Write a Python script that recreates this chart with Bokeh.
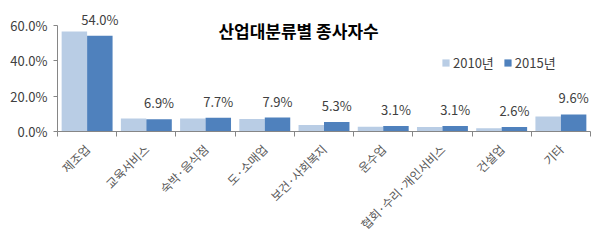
import numpy as np
from bokeh.plotting import figure
from bokeh.models import (ColumnDataSource, Range1d, FixedTicker, PrintfTickFormatter,
                          Legend, LegendItem, Label)
from bokeh.embed import file_html
from bokeh.resources import INLINE
from bokeh.core.properties import value

categories = ["제조업", "교육서비스", "숙박·음식점", "도·소매업", "보건·사회복지",
              "운수업", "협회·수리·개인서비스", "건설업", "기타"]
v2010 = [56.5, 7.4, 7.3, 7.0, 3.6, 2.7, 2.6, 1.9, 8.5]
v2015 = [54.0, 6.9, 7.7, 7.9, 5.3, 3.1, 3.1, 2.6, 9.6]
series_names = ["2010년", "2015년"]
y_ticks = [0, 20, 40, 60]
title_text = "산업대분류별 종사자수"

C2010 = "#B9CDE5"
C2015 = "#4F81BD"
FONT = "Noto Sans CJK KR"
n = len(categories)
centers = np.arange(n) + 0.5
bw = 0.43

p = figure(width=600, height=241, output_backend="svg", toolbar_location=None,
           x_range=Range1d(0, n), y_range=Range1d(0, 68.3),
           min_border_left=57, min_border_right=10, min_border_top=10,
           min_border_bottom=108)
p.outline_line_color = None
p.grid.visible = False
p.background_fill_color = "white"
p.border_fill_color = "white"

src = ColumnDataSource(dict(
    x1=centers - bw / 2, x2=centers + bw / 2, v1=v2010, v2=v2015,
    lab=[f"{v:.1f}%" for v in v2015]))

r1 = p.vbar(x="x1", top="v1", width=bw, source=src, fill_color=C2010, line_color=None)
r2 = p.vbar(x="x2", top="v2", width=bw, source=src, fill_color=C2015, line_color=None)

p.text(x="x2", y="v2", text="lab", source=src, text_align="center",
       text_baseline="bottom", y_offset=-7, text_font=value(FONT),
       text_font_size="13px", text_color="#404040")

# y axis
ya = p.yaxis[0]
ya.ticker = FixedTicker(ticks=y_ticks)
ya.formatter = PrintfTickFormatter(format="%.1f%%")
ya.bounds = (0, 60)
ya.axis_line_color = "#868686"
ya.major_tick_line_color = "#868686"
ya.major_tick_out = 4
ya.major_tick_in = 0
ya.minor_tick_line_color = None
ya.major_label_text_font = FONT
ya.major_label_text_font_size = "13px"
ya.major_label_text_color = "#404040"
ya.major_label_standoff = 6

# x axis
xa = p.xaxis[0]
xa.ticker = FixedTicker(ticks=list(centers), minor_ticks=list(range(n + 1)))
xa.major_label_overrides = {float(c): cat for c, cat in zip(centers, categories)}
xa.major_tick_line_color = None
xa.minor_tick_line_color = "#868686"
xa.minor_tick_out = 5
xa.minor_tick_in = 0
xa.axis_line_color = "#868686"
xa.major_label_orientation = np.pi / 4
xa.major_label_text_font = FONT
xa.major_label_text_font_size = "12px"
xa.major_label_text_color = "#595959"
xa.major_label_standoff = 9

p.add_layout(Label(x=4.07, y=57.2, text=title_text, text_align="center",
                   text_baseline="middle", text_font=FONT, text_font_size="17px",
                   text_font_style="bold", text_color="#000000"))

legend = Legend(items=[LegendItem(label=series_names[0], renderers=[r1]),
                       LegendItem(label=series_names[1], renderers=[r2])],
                location=(384, 59), orientation="horizontal",
                background_fill_alpha=0, border_line_color=None,
                glyph_width=9, glyph_height=9, label_standoff=3, spacing=9,
                padding=0, margin=0, label_text_font=FONT,
                label_text_font_size="13px", label_text_color="#404040")
p.add_layout(legend)

open("out.html", "w").write(file_html(p, INLINE))
